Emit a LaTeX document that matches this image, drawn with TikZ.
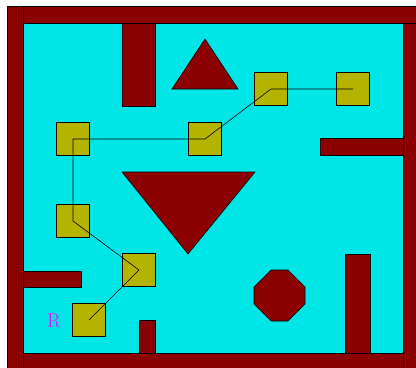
\documentclass[tikz,border=0pt]{standalone}
\usetikzlibrary{positioning}
\definecolor{wallred}{RGB}{139,0,0}
\definecolor{floorcyan}{RGB}{0,230,230}
\definecolor{celloliv}{RGB}{180,180,0}
\definecolor{startmag}{RGB}{255,0,255}

\begin{document}
\begin{tikzpicture}[x=1bp, y=-1bp, line join=miter,
    wall/.style={fill=wallred, draw=black, line width=0.6pt},
    cell/.style={rectangle, draw=black, fill=celloliv, line width=0.6pt,
      minimum size=33bp, inner sep=0pt},
    route/.style={line width=0.6pt},
    lbl/.style={text=startmag, font=\fontsize{20}{20}\selectfont}]
  \useasboundingbox (0,0) rectangle (416,368);
  % ================= floor =================
  \fill[floorcyan] (23,23) rectangle (403,353);
  % ================= outer walls =================
  \draw[wall] (7,6) rectangle (23,370);
  \draw[wall] (23,6) rectangle (418,23);
  \draw[wall] (403,23) rectangle (418,370);
  \draw[wall] (23,353) rectangle (403,370);
  % ================= inner walls =================
  \draw[wall] (122,23) rectangle (155,106);
  \draw[wall] (320,138) rectangle (403,155);
  \draw[wall] (23,271) rectangle (81,287);
  \draw[wall] (139,320) rectangle (155,353);
  \draw[wall] (345,254) rectangle (370,353);
  % ================= obstacles =================
  \draw[wall] (205,39) -- (238,89) -- (172,89) -- cycle;
  \draw[wall] (122,172) -- (255,172) -- (188,254) -- cycle;
  \draw[wall] (271,270) -- (288,270) -- (305,287) -- (305,304)
     -- (288,321) -- (271,321) -- (254,304) -- (254,287) -- cycle;
  % ================= cells along the route =================
  \node[cell] (p1) at (89,320) {};
  \node[cell] (p2) at (139,270) {};
  \node[cell] (p3) at (73,221) {};
  \node[cell] (p4) at (73,139) {};
  \node[cell] (p5) at (205,139) {};
  \node[cell] (p6) at (271,89) {};
  \node[cell] (p7) at (353,89) {};
  \draw[route] (p1.center) -- (p2.center) -- (p3.center) -- (p4.center)
     -- (p5.center) -- (p6.center) -- (p7.center);
  % start label
  \node[lbl] (start) at (54,321) {R};
\end{tikzpicture}
\end{document}
